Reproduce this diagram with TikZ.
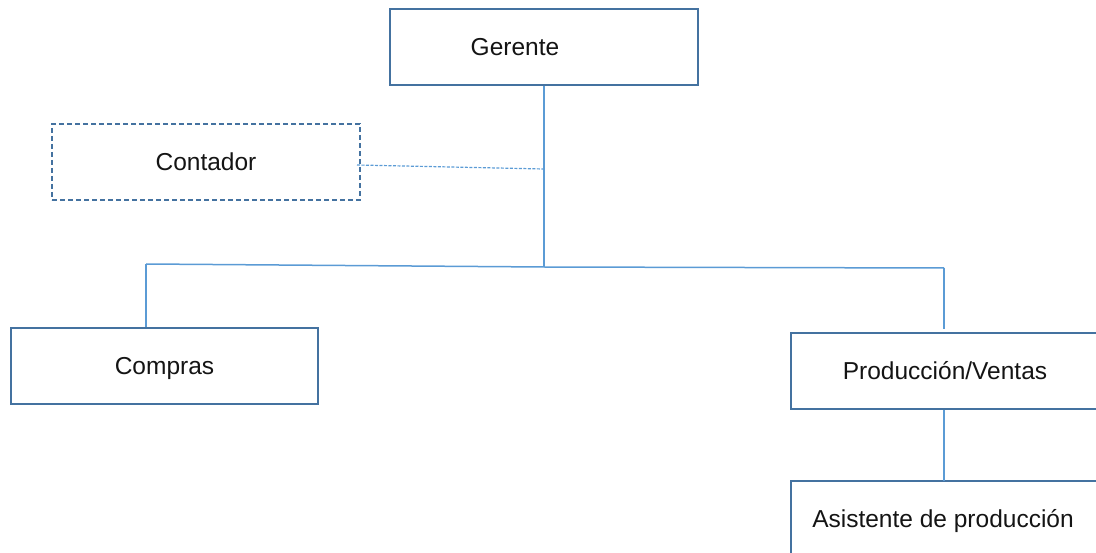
\documentclass[tikz,border=0pt]{standalone}
\usepackage{fontspec}
\setmainfont{Liberation Sans}
\definecolor{boxc}{RGB}{68,114,160}
\definecolor{linec}{RGB}{91,155,213}
\definecolor{txtc}{RGB}{20,20,20}
\begin{document}
\begin{tikzpicture}[x=1pt,y=-1pt,
  tfont/.style={font=\fontsize{24.5}{28}\selectfont,text=txtc,text height=20pt,text depth=2.5pt},
  orgbox/.style={draw=boxc,line width=1.4pt,rectangle,inner sep=0pt,tfont},
  conn/.style={draw=linec,line width=1.5pt},
  dconn/.style={draw=linec,line width=1.2pt,dash pattern=on 3pt off 1.5pt}]
\useasboundingbox (0,0) rectangle (1096,553);
\clip (0,0) rectangle (1096,553);
\node[orgbox,minimum width=308pt,minimum height=76pt,
  label={[tfont,inner sep=0pt,xshift=-29pt]center:Gerente}] (ger) at (544,47) {};
\node[orgbox,dash pattern=on 5pt off 3pt,minimum width=308pt,minimum height=76pt] (con) at (206,162) {Contador};
\node[orgbox,minimum width=307pt,minimum height=76pt] (com) at (164.5,366) {Compras};
\node[orgbox,minimum width=308pt,minimum height=76pt] (pro) at (945,371) {Producción/Ventas};
\node[orgbox,minimum width=308pt,minimum height=90pt,outer sep=0pt,anchor=north west] (asi) at (791,481) {};
\node[tfont,inner sep=0pt] (asit) at (943,519) {Asistente de producción};
\coordinate (hub) at (544,267);
\coordinate (cj) at (544,169);
\coordinate (lj) at (146,264);
\coordinate (rj) at (944,268);
\coordinate (pt) at (944,329);
\draw[conn] (ger.south) -- (hub);
\draw[conn] (lj) -- (hub) -- (rj);
\draw[conn] (lj) -- (lj |- com.north);
\draw[conn] (rj) -- (pt);
\draw[conn] (pro.south -| pt) -- (asi.north -| pt);
\draw[dconn] (357,165) coordinate (cs) -- (cj);
\end{tikzpicture}
\end{document}
